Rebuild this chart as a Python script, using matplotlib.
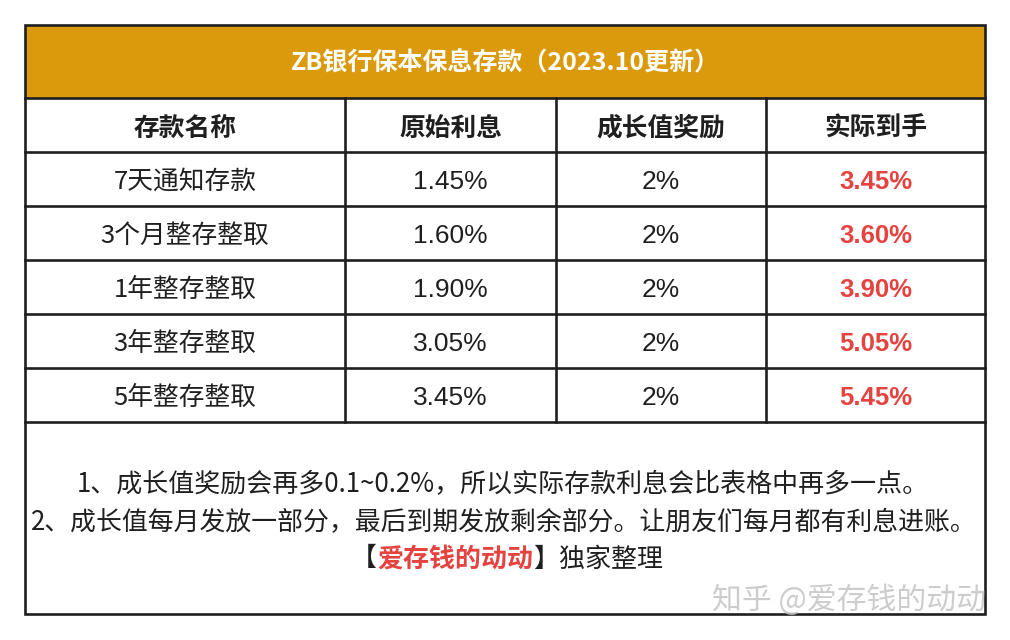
import matplotlib
matplotlib.use("Agg")
import matplotlib.pyplot as plt
from matplotlib.patches import Rectangle
from matplotlib.offsetbox import TextArea, HPacker, AnnotationBbox

plt.rcParams['font.family'] = ['Noto Sans CJK SC', 'DejaVu Sans']

title = "ZB银行保本保息存款（2023.10更新）"
columns = ["存款名称", "原始利息", "成长值奖励", "实际到手"]
names = ["7天通知存款", "3个月整存整取", "1年整存整取", "3年整存整取", "5年整存整取"]
base_rate = ["1.45%", "1.60%", "1.90%", "3.05%", "3.45%"]
bonus = ["2%", "2%", "2%", "2%", "2%"]
actual = ["3.45%", "3.60%", "3.90%", "5.05%", "5.45%"]
notes = ["1、成长值奖励会再多0.1~0.2%，所以实际存款利息会比表格中再多一点。",
         "2、成长值每月发放一部分，最后到期发放剩余部分。让朋友们每月都有利息进账。"]
credit_name = "爱存钱的动动"
credit_tail = "独家整理"
watermark = "知乎 @爱存钱的动动"

W, H = 1010, 640
fig = plt.figure(figsize=(W / 100, H / 100), dpi=100)
ax = fig.add_axes([0, 0, 1, 1])
ax.set_xlim(0, W)
ax.set_ylim(H, 0)
ax.axis('off')

left, right = 25, 985
top = 25
title_h = 73
row_h = 54
col_x = [25, 345, 556, 766, 985]
bottom = 614
gold = "#DB9A0B"
dark = "#1f1f1f"
red = "#E5433F"
lw = 1.9

# title band
ax.add_patch(Rectangle((left, top), right - left, title_h, facecolor=gold, edgecolor='none'))
ax.text((left + right) / 2, top + title_h / 2 + 2, title, color='white', fontsize=18,
        fontweight='bold', ha='center', va='center')

header_top = top + title_h
n_rows = len(names)
rows_bottom = header_top + row_h * (n_rows + 1)

for i in range(n_rows + 2):
    y = header_top + i * row_h
    ax.plot([left, right], [y, y], color=dark, lw=lw, solid_capstyle='projecting')
for x in col_x[1:-1]:
    ax.plot([x, x], [header_top, rows_bottom], color=dark, lw=lw)
ax.add_patch(Rectangle((left, top), right - left, bottom - top, facecolor='none',
                       edgecolor=dark, lw=lw))

def cx(j):
    return (col_x[j] + col_x[j + 1]) / 2

num_font = ['Liberation Sans', 'Noto Sans CJK SC']
for j, c in enumerate(columns):
    ax.text(cx(j), header_top + row_h / 2 + 3, c, fontsize=18.5, fontweight='bold',
            color=dark, ha='center', va='center')
for i in range(n_rows):
    yc = header_top + (i + 1) * row_h + row_h / 2 + 3
    ax.text(cx(0), yc, names[i], fontsize=18.5, color=dark, ha='center', va='center')
    ax.text(cx(1), yc, base_rate[i], fontsize=19, color=dark, ha='center', va='center',
            family=num_font)
    ax.text(cx(2), yc, bonus[i], fontsize=19, color=dark, ha='center', va='center',
            family=num_font)
    ax.text(cx(3), yc, actual[i], fontsize=18.5, color=red, ha='center', va='center',
            family=num_font, fontweight='bold')

ax.text((left + right) / 2 - 2, 485, notes[0], fontsize=18.7, color=dark, ha='center', va='center')
ax.text((left + right) / 2 - 1, 523, notes[1], fontsize=18.6, color=dark, ha='center', va='center')

parts = [TextArea("【", textprops=dict(fontsize=18.7, color=dark)),
         TextArea(credit_name, textprops=dict(fontsize=18.7, color=red, fontweight='bold')),
         TextArea("】" + credit_tail, textprops=dict(fontsize=18.7, color=dark))]
pack = HPacker(children=parts, pad=0, sep=0, align='center')
ab = AnnotationBbox(pack, ((left + right) / 2 + 2, 559), xycoords='data', frameon=False,
                    box_alignment=(0.5, 0.5))
ax.add_artist(ab)

ax.text(986, 600, watermark, fontsize=21.5, color='#c4c4c4', alpha=0.85,
        ha='right', va='center')

fig.savefig("out.png", dpi=100)
